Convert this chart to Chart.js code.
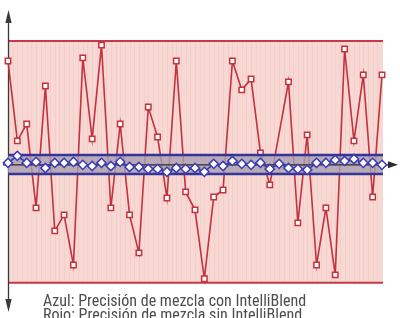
<!DOCTYPE html>
<html lang="es">
<head>
<meta charset="UTF-8">
<title>Precisión de mezcla</title>
<script src="https://cdn.jsdelivr.net/npm/chart.js"></script>
<style>
  body { margin: 0; background: #fff; }
  canvas { display: block; }
</style>
</head>
<body>
<canvas id="mixChart" width="400" height="318"></canvas>

<script>
    // muestras 1..41
    const samples = Array.from({ length: 41 }, (_, i) => i + 1);

    // rojo: sin IntelliBlend (null = sin marcador, la linea sigue recta)
    const sinIntelliBlend = [91.7, 58.7, 65.7, 31.0, 81.4, 21.5, 28.1, 7.4, 93.0, 59.5,
        98.3, 31.0, 65.7, 28.1, 12.4, 72.7, 60.3, 35.1, 91.7, 37.6,
        30.2, 1.7, 35.5, 38.4, 91.7, 79.8, 84.3, 53.7, 40.5, null,
        83.1, 24.8, 61.2, 7.4, 31.0, 3.3, 96.7, 58.7, 86.0, 35.5, 86.0];

    // azul: con IntelliBlend
    const conIntelliBlend = [49.6, 52.5, 49.6, 50.0, 47.5, 49.6, 49.6, 50.0, 48.8, 48.3,
        49.6, 48.3, 50.0, 47.9, 47.9, 47.1, 47.1, 45.9, 47.5, 47.1,
        47.5, 45.9, 49.2, 48.3, 50.4, 49.2, 48.8, 49.6, 47.1, 49.2,
        47.5, 47.1, 46.7, 49.6, 49.6, 50.8, 50.4, 51.2, 49.6, 49.6, 48.8];

    const redLimits = [0, 100];
    const blueLimits = [45.0, 52.9];
    const axisLevel = 48.8;
    const captions = [
        'Azul: Precisión de mezcla con IntelliBlend',
        'Rojo: Precisión de mezcla sin IntelliBlend'
    ];

    function arrow(ctx, tx, ty, dx, dy, len, half) {
        // punta en (tx, ty), direccion (dx, dy)
        const bx = tx - dx * len, by = ty - dy * len;
        ctx.beginPath();
        ctx.moveTo(tx, ty);
        ctx.lineTo(bx - dy * half, by + dx * half);
        ctx.lineTo(bx + dy * half, by - dx * half);
        ctx.closePath();
        ctx.fill();
    }

    const backdrop = {
        id: 'backdrop',
        beforeDatasetsDraw(chart) {
            const { ctx, chartArea: a, scales: { x, y } } = chart;
            const top = y.getPixelForValue(redLimits[1]);
            const bottom = y.getPixelForValue(redLimits[0]);
            ctx.save();
            ctx.fillStyle = '#f8d8d3';
            ctx.fillRect(a.left, top, a.right - a.left + 1, bottom - top);

            // rayas verticales suaves
            const step = (x.getPixelForValue(1) - x.getPixelForValue(0)) / 2;
            ctx.strokeStyle = 'rgba(214, 150, 150, 0.14)';
            ctx.lineWidth = 1;
            for (let px = a.left + step; px < a.right; px += step) {
                ctx.beginPath();
                ctx.moveTo(Math.round(px) + 0.5, top);
                ctx.lineTo(Math.round(px) + 0.5, bottom);
                ctx.stroke();
            }

            // limites rojos
            ctx.strokeStyle = '#c43a4b';
            ctx.lineWidth = 2;
            [top, bottom].forEach(py => {
                ctx.beginPath();
                ctx.moveTo(a.left, py);
                ctx.lineTo(a.right + 1, py);
                ctx.stroke();
            });

            // eje vertical con flechas
            ctx.strokeStyle = '#3a3a3a';
            ctx.fillStyle = '#3a3a3a';
            ctx.lineWidth = 1.3;
            ctx.beginPath();
            ctx.moveTo(a.left + 0.5, a.top + 6);
            ctx.lineTo(a.left + 0.5, a.bottom - 6);
            ctx.stroke();
            arrow(ctx, a.left + 0.5, a.top, 0, -1, 13, 3.2);
            arrow(ctx, a.left + 0.5, a.bottom, 0, 1, 13, 3.2);
            ctx.restore();
        },
        afterDatasetDraw(chart, args) {
            if (args.index !== 1) return;
            const { ctx, chartArea: a, scales: { y } } = chart;
            const bTop = y.getPixelForValue(blueLimits[1]);
            const bBottom = y.getPixelForValue(blueLimits[0]);
            const ax = y.getPixelForValue(axisLevel);
            ctx.save();
            ctx.fillStyle = 'rgba(168, 160, 176, 0.8)';
            ctx.fillRect(a.left, bTop, a.right - a.left + 1, bBottom - bTop);

            ctx.strokeStyle = '#34349a';
            ctx.lineWidth = 2.5;
            [bTop, bBottom].forEach(py => {
                ctx.beginPath();
                ctx.moveTo(a.left, py);
                ctx.lineTo(a.right + 1, py);
                ctx.stroke();
            });

            // eje horizontal con flecha
            ctx.strokeStyle = '#2a2a2a';
            ctx.fillStyle = '#2a2a2a';
            ctx.lineWidth = 1.3;
            ctx.beginPath();
            ctx.moveTo(a.left - 5, ax);
            ctx.lineTo(a.right + 8, ax);
            ctx.stroke();
            arrow(ctx, a.right + 16, ax, 1, 0, 10, 3.5);
            ctx.restore();
        },
        afterDraw(chart) {
            const ctx = chart.ctx;
            ctx.save();
            ctx.fillStyle = '#4d4d4d';
            ctx.font = '16px "Liberation Sans Narrow", "Roboto Condensed", Roboto, sans-serif';
            ctx.textBaseline = 'alphabetic';
            ctx.fillText(captions[0], 43, 306, 268);
            ctx.fillText(captions[1], 43, 320, 268);
            ctx.restore();
        }
    };

    const ctx = document.getElementById('mixChart').getContext('2d');
    const chart = new Chart(ctx, {
        type: 'line',
        data: {
            labels: samples,
            datasets: [{
                label: 'Con IntelliBlend',
                data: conIntelliBlend,
                borderColor: '#3b3bac',
                borderWidth: 1.6,
                pointStyle: 'rectRot',
                pointRadius: 4.6,
                pointBackgroundColor: '#ffffff',
                pointBorderColor: '#3b3bb4',
                pointBorderWidth: 1.5,
                tension: 0,
                clip: false
            }, {
                label: 'Sin IntelliBlend',
                data: sinIntelliBlend,
                borderColor: '#c2323f',
                borderWidth: 1.6,
                pointStyle: 'rect',
                pointRadius: 3.8,
                pointBackgroundColor: '#ffffff',
                pointBorderColor: '#c2323f',
                pointBorderWidth: 1.5,
                spanGaps: true,
                tension: 0,
                clip: false
            }]
        },
        options: {
            responsive: false,
            animation: false,
            layout: { padding: { left: 8, right: 18, top: 10, bottom: 6 } },
            plugins: {
                legend: { display: false },
                tooltip: { enabled: false },
                title: { display: false }
            },
            scales: {
                x: { display: false, offset: false },
                y: { display: false, min: -12, max: 112.8 }
            }
        },
        plugins: [backdrop]
    });
</script>
</body>
</html>
